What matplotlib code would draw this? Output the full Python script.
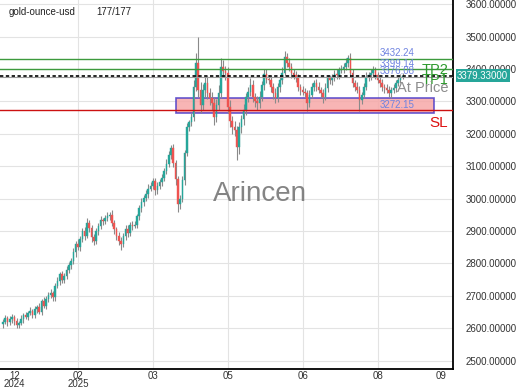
import matplotlib
matplotlib.use('Agg')
import matplotlib.pyplot as plt
import numpy as np
from matplotlib.patches import Rectangle

plt.rcParams['font.family'] = ['Liberation Sans', 'DejaVu Sans']

# daily closes (177 candles)
closes = [
    2620, 2632, 2618, 2627, 2635, 2622, 2610, 2615, 2628, 2640,
    2636, 2646, 2652, 2640, 2658, 2665, 2650, 2683, 2670, 2690,
    2702, 2708, 2695, 2730, 2745, 2767, 2750, 2761, 2780, 2795,
    2808, 2835, 2860, 2850, 2876, 2900, 2885, 2925, 2910, 2880,
    2870, 2900, 2915, 2935, 2932, 2940, 2947, 2950, 2925, 2905,
    2885, 2870, 2860, 2885, 2907, 2895, 2920, 2916, 2920, 2945,
    2970, 2990, 3003, 3015, 3030, 3040, 3055, 3025, 3040, 3050,
    3065, 3085, 3108, 3135, 3155, 3110, 3060, 2984, 3000, 3056,
    3140, 3220, 3235, 3251, 3345, 3420, 3335, 3290, 3335, 3357,
    3326, 3310, 3295, 3251, 3290, 3326, 3407, 3395, 3388, 3283,
    3240, 3220, 3211, 3158, 3220, 3245, 3273, 3314, 3330, 3351,
    3314, 3300, 3295, 3314, 3350, 3385, 3370, 3366, 3345, 3326,
    3310, 3345, 3365, 3388, 3438, 3420, 3407, 3388, 3380, 3373,
    3345, 3335, 3329, 3326, 3295, 3320, 3345, 3357, 3345, 3335,
    3325, 3314, 3342, 3371, 3365, 3376, 3385, 3380, 3397, 3400,
    3407, 3420, 3435, 3388, 3357, 3345, 3335, 3304, 3320, 3345,
    3376, 3380, 3388, 3397, 3380, 3366, 3357, 3345, 3340, 3335,
    3326, 3335, 3342, 3357, 3365, 3376, 3379.33,
]
first_open = 2612

# wick lengths above / below the body
wick_up = [
    8, 10, 6, 12, 8, 6, 10, 8, 12, 6,
    10, 8, 12, 6, 10, 8, 12, 6, 14, 8,
    10, 12, 8, 10, 12, 6, 10, 8, 12, 10,
    8, 12, 10, 14, 8, 10, 12, 14, 8, 10,
    12, 8, 10, 12, 6, 10, 12, 8, 14, 10,
    8, 12, 10, 8, 12, 10, 8, 12, 10, 8,
    10, 12, 8, 10, 14, 12, 10, 8, 12, 10,
    12, 10, 14, 12, 10, 12, 8, 10, 12, 14,
    10, 12, 8, 14, 20, 30, 80, 25, 20, 18,
    22, 15, 20, 18, 16, 24, 28, 20, 15, 18,
    20, 15, 18, 12, 16, 14, 18, 12, 15, 20,
    14, 12, 16, 18, 12, 15, 14, 12, 16, 12,
    14, 12, 15, 18, 17, 12, 14, 10, 12, 15,
    12, 10, 14, 12, 10, 14, 12, 10, 12, 14,
    10, 12, 14, 10, 12, 10, 12, 14, 10, 12,
    12, 14, 8, 15, 12, 10, 14, 12, 10, 12,
    14, 10, 12, 13, 10, 12, 10, 12, 10, 14,
    12, 10, 12, 10, 12, 10, 8,
]
wick_dn = [
    10, 6, 12, 8, 10, 12, 8, 10, 6, 12,
    8, 12, 6, 10, 8, 12, 6, 10, 8, 12,
    10, 8, 12, 10, 6, 12, 10, 12, 8, 10,
    12, 10, 14, 8, 12, 10, 14, 8, 12, 15,
    14, 10, 12, 8, 12, 10, 8, 12, 10, 14,
    12, 14, 20, 10, 12, 14, 10, 12, 8, 10,
    12, 10, 14, 10, 12, 8, 10, 14, 12, 10,
    10, 12, 8, 10, 12, 14, 18, 24, 16, 12,
    14, 10, 12, 10, 12, 14, 20, 25, 18, 20,
    18, 22, 20, 25, 16, 18, 15, 20, 22, 18,
    20, 22, 18, 38, 20, 16, 18, 14, 16, 12,
    16, 18, 20, 14, 12, 15, 14, 12, 16, 18,
    14, 12, 15, 12, 10, 14, 12, 15, 12, 14,
    12, 14, 10, 12, 25, 12, 10, 14, 12, 10,
    14, 18, 10, 12, 10, 14, 12, 10, 12, 10,
    12, 10, 14, 12, 14, 12, 10, 34, 12, 10,
    10, 12, 14, 10, 12, 10, 14, 12, 14, 10,
    12, 14, 10, 12, 10, 8, 6,
]

# trade levels
tp2 = 3432.24
tp1 = 3399.14
entry = 3376.08
last_price = 3379.33
sl = 3272.15
zone_low, zone_high = 3263, 3311
zone_start, zone_end = 76, 190

xtick_pos = [33, 66, 99, 132, 165]
xtick_labels = ['02\n2025', '03', '05', '06', '08']
edge_tick_pos = [5, 193]
edge_tick_labels = ['12\n2024', '09']

closes = np.array(closes, dtype=float)
opens = np.concatenate([[first_open], closes[:-1]])
highs = np.maximum(opens, closes) + np.array(wick_up)
lows = np.minimum(opens, closes) - np.array(wick_dn)
idx = np.arange(len(closes))
up = closes >= opens

fig = plt.figure(figsize=(5.2, 3.9), dpi=100)
ax = fig.add_axes([0.0, 1 - 369 / 390, 453 / 520, 369 / 390])

green = '#26a69a'
red = '#ef5350'
cols = np.where(up, green, red)

ax.vlines(idx, lows, highs, color='#8a8a8a', linewidth=0.8, zorder=3)
ax.bar(idx, np.maximum(np.abs(closes - opens), 2), bottom=np.minimum(opens, closes),
       width=0.7, color=cols, edgecolor=cols, linewidth=0.3, zorder=4)

# zone
ax.add_patch(Rectangle((zone_start, zone_low), zone_end - zone_start, zone_high - zone_low,
                       facecolor='#f7a8a8', alpha=0.85, edgecolor='#4b3bc8', linewidth=1.2, zorder=2))

ax.axhline(tp2, color='#3d9a3d', linewidth=1, zorder=5)
ax.axhline(tp1, color='#3d9a3d', linewidth=1, zorder=5)
ax.axhline(entry, color='#9a9a9a', linewidth=0.8, zorder=5)
ax.axhline(last_price, color='black', linewidth=1.2, linestyle=(0, (2, 1.5)), zorder=6)
ax.axhline(sl, color='#cc1111', linewidth=1, zorder=5)

lbl_x = 166
for v in [tp2, tp1, entry, sl]:
    ax.text(lbl_x, v + 2, f'{v:.2f}', color='#6f83e0', fontsize=7, ha='left', va='bottom', zorder=7)

ax.text(196, tp2 - 14, 'TP2', color='#2e9a2e', fontsize=10.5, ha='right', va='top', zorder=7)
ax.text(196, tp1 - 12, 'TP1', color='#2e9a2e', fontsize=10.5, ha='right', va='top', zorder=7)
ax.text(196, entry - 12, 'At Price', color='#8c8c8c', fontsize=10.5, ha='right', va='top', zorder=7)
ax.text(196, sl - 17, 'SL', color='#dd1111', fontsize=11, ha='right', va='top', zorder=7)

ax.text(113, 3015, 'Arincen', color='#777777', fontsize=20, ha='center', va='center', alpha=0.9, zorder=7)

ax.text(0.02, 0.968, 'gold-ounce-usd', transform=ax.transAxes, fontsize=7, color='#222222', va='center')
ax.text(0.213, 0.968, '177/177', transform=ax.transAxes, fontsize=7, color='#222222', va='center')

# price tag
ax.annotate(f'{last_price:.5f}', xy=(1.0, last_price), xycoords=('axes fraction', 'data'),
            xytext=(3, 0), textcoords='offset points', ha='left', va='center', fontsize=7,
            color='white', bbox=dict(boxstyle='square,pad=0.15', facecolor=green, edgecolor='none'),
            annotation_clip=False, zorder=8)

ax.set_xlim(-1.3, 198.2)
ax.set_ylim(2474, 3613)
ax.set_yticks(np.arange(2500, 3601, 100))
ax.yaxis.set_major_formatter(matplotlib.ticker.FormatStrFormatter('%.5f'))
ax.yaxis.tick_right()
ax.tick_params(axis='y', length=0, pad=9, labelsize=7, labelcolor='#333333')

ax.set_xticks(xtick_pos)
ax.set_xticklabels(xtick_labels)
ax.set_xticks(edge_tick_pos, minor=True)
ax.set_xticklabels(edge_tick_labels, minor=True)
ax.tick_params(axis='x', which='both', length=0, pad=1.5, labelsize=7, labelcolor='#333333')
for t in ax.get_xticklabels(which='both'):
    t.set_linespacing(0.8)

ax.grid(True, which='major', color='#e3e3e3', linewidth=0.8)
ax.set_axisbelow(True)
for s in ['top', 'left']:
    ax.spines[s].set_visible(False)
for s in ['right', 'bottom']:
    ax.spines[s].set_color('black')
    ax.spines[s].set_linewidth(1.3)

fig.savefig('out.png', dpi=100)
